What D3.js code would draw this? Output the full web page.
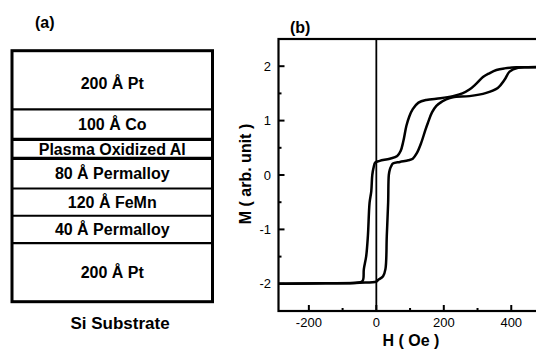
<!DOCTYPE html>
<html>
<head>
<meta charset="utf-8">
<script src="https://cdn.jsdelivr.net/npm/d3@7/dist/d3.min.js"></script>
<style>
  html, body { margin: 0; padding: 0; background: #fff; }
  svg { display: block; font-family: "Liberation Sans", Arial, Helvetica, sans-serif; }
</style>
</head>
<body>
<div id="chart"></div>
<script>
// layer stack (top to bottom) and their drawn thickness in relative units
const layerNames = ["200 Å Pt", "100 Å Co", "Plasma Oxidized Al", "80 Å Permalloy", "120 Å FeMn", "40 Å Permalloy", "200 Å Pt"];
const layerUnits = [2.15, 1.1, 0.7, 1.1, 1.0, 1.0, 2.15];

// hysteresis loop, descending branch (from +H)
const descH = [500, 474, 415, 380, 356, 335, 316, 295, 276, 255, 227, 190, 148, 125, 108, 98, 89, 80, 72, 62, 40, 10, -3, -8, -12, -15, -20, -25, -30, -37, -41, -60, -150, -290];
const descM = [1.99, 1.98, 1.98, 1.96, 1.93, 1.87, 1.80, 1.67, 1.57, 1.50, 1.45, 1.41, 1.38, 1.33, 1.21, 1.08, 0.90, 0.62, 0.44, 0.35, 0.30, 0.26, 0.23, 0.14, 0.0, -0.3, -0.51, -1.12, -1.49, -1.73, -1.95, -1.98, -1.99, -2.0];
// ascending branch (from -H)
const ascH = [-290, -150, -50, 0, 5, 20, 27, 31, 35, 37, 40, 44, 49, 70, 95, 108, 120, 133, 145, 153, 165, 178, 195, 207, 227, 276, 326, 360, 380, 395, 420, 450, 500];
const ascM = [-2.0, -1.99, -1.98, -1.96, -1.93, -1.86, -1.73, -1.12, -0.51, 0.0, 0.1, 0.16, 0.21, 0.24, 0.27, 0.3, 0.4, 0.59, 0.82, 0.96, 1.15, 1.27, 1.35, 1.39, 1.43, 1.45, 1.51, 1.6, 1.75, 1.9, 1.97, 1.98, 1.99];

const xMajor = [-200, 0, 200, 400];
const xMinor = [-100, 100, 300];
const yMajor = [-2, -1, 0, 1, 2];
const yMinor = [-1.5, -0.5, 0.5, 1.5];

const W = 536, H = 356;
const black = "#000";

const svg = d3.select("#chart").append("svg")
    .attr("width", W)
    .attr("height", H);

// ---------- (a) layer stack ----------
const stackLeft = 12, stackRight = 212.5;
const cum = [0];
layerUnits.forEach(u => cum.push(cum[cum.length - 1] + u));
const yStack = d3.scaleLinear().domain([0, cum[cum.length - 1]]).range([50.7, 301.7]);

svg.append("text")
    .attr("x", 35)
    .attr("y", 28)
    .style("font-size", "16px")
    .style("font-weight", "bold")
    .text("(a)");

const stack = svg.append("g");

stack.selectAll("text.layer")
    .data(layerNames)
    .join("text")
    .attr("class", "layer")
    .attr("x", (stackLeft + stackRight) / 2)
    .attr("y", (d, i) => (yStack(cum[i]) + yStack(cum[i + 1])) / 2 + 6 + (i === 0 ? 3 : 0))
    .attr("text-anchor", "middle")
    .style("font-size", "16px")
    .style("font-weight", "bold")
    .text(d => d);

// inner boundaries
stack.selectAll("line.bound")
    .data(cum.slice(1, -1))
    .join("line")
    .attr("class", "bound")
    .attr("x1", stackLeft)
    .attr("x2", stackRight)
    .attr("y1", d => yStack(d))
    .attr("y2", d => yStack(d))
    .attr("stroke", black)
    .attr("stroke-width", (d, i) => (i === 1 || i === 2) ? 3.2 : 2.2);

stack.append("rect")
    .attr("x", stackLeft)
    .attr("y", yStack(0))
    .attr("width", stackRight - stackLeft)
    .attr("height", yStack(cum[cum.length - 1]) - yStack(0))
    .attr("fill", "none")
    .attr("stroke", black)
    .attr("stroke-width", 3);

svg.append("text")
    .attr("x", 120)
    .attr("y", 329)
    .attr("text-anchor", "middle")
    .style("font-size", "17px")
    .style("font-weight", "bold")
    .text("Si Substrate");

// ---------- (b) hysteresis loop ----------
const x = d3.scaleLinear().domain([-290, 500]).range([278.5, 545]);
const y = d3.scaleLinear().domain([-2.5, 2.5]).range([311, 39]);

svg.append("text")
    .attr("x", 290)
    .attr("y", 33)
    .style("font-size", "16px")
    .style("font-weight", "bold")
    .text("(b)");

const plot = svg.append("g");

// frame
plot.append("rect")
    .attr("x", x.range()[0])
    .attr("y", y.range()[1])
    .attr("width", x.range()[1] - x.range()[0])
    .attr("height", y.range()[0] - y.range()[1])
    .attr("fill", "none")
    .attr("stroke", black)
    .attr("stroke-width", 2.2);

// H = 0 line
plot.append("line")
    .attr("x1", x(0)).attr("x2", x(0))
    .attr("y1", y.range()[0]).attr("y2", y.range()[1])
    .attr("stroke", black)
    .attr("stroke-width", 1.8);

// inward ticks
plot.selectAll("line.xt")
    .data(xMajor.map(v => [v, 6]).concat(xMinor.map(v => [v, 3])))
    .join("line")
    .attr("class", "xt")
    .attr("x1", d => x(d[0])).attr("x2", d => x(d[0]))
    .attr("y1", y.range()[0]).attr("y2", d => y.range()[0] - d[1])
    .attr("stroke", black)
    .attr("stroke-width", 2);

plot.selectAll("line.yt")
    .data(yMajor.map(v => [v, 6]).concat(yMinor.map(v => [v, 3])))
    .join("line")
    .attr("class", "yt")
    .attr("y1", d => y(d[0])).attr("y2", d => y(d[0]))
    .attr("x1", x.range()[0]).attr("x2", d => x.range()[0] + d[1])
    .attr("stroke", black)
    .attr("stroke-width", 2);

plot.selectAll("text.xl")
    .data(xMajor)
    .join("text")
    .attr("class", "xl")
    .attr("x", d => x(d))
    .attr("y", 327)
    .attr("text-anchor", "middle")
    .style("font-size", "13px")
    .text(d => d);

plot.selectAll("text.yl")
    .data(yMajor)
    .join("text")
    .attr("class", "yl")
    .attr("x", 271)
    .attr("y", d => y(d) + 4.5)
    .attr("text-anchor", "end")
    .style("font-size", "13px")
    .text(d => d);

svg.append("text")
    .attr("x", 411)
    .attr("y", 346)
    .attr("text-anchor", "middle")
    .style("font-size", "16px")
    .style("font-weight", "bold")
    .text("H ( Oe )");

svg.append("text")
    .attr("transform", "translate(251,174) rotate(-90)")
    .attr("text-anchor", "middle")
    .style("font-size", "16px")
    .style("font-weight", "bold")
    .text("M ( arb. unit )");

const line = d3.line()
    .x(d => x(d[0]))
    .y(d => y(d[1]))
    .curve(d3.curveCatmullRom.alpha(0.5));

const branches = [
    descH.map((h, i) => [h, descM[i]]),
    ascH.map((h, i) => [h, ascM[i]])
];

plot.selectAll("path.loop")
    .data(branches)
    .join("path")
    .attr("class", "loop")
    .attr("d", line)
    .attr("fill", "none")
    .attr("stroke", black)
    .attr("stroke-width", 2.5)
    .attr("stroke-linejoin", "round");
</script>
</body>
</html>
